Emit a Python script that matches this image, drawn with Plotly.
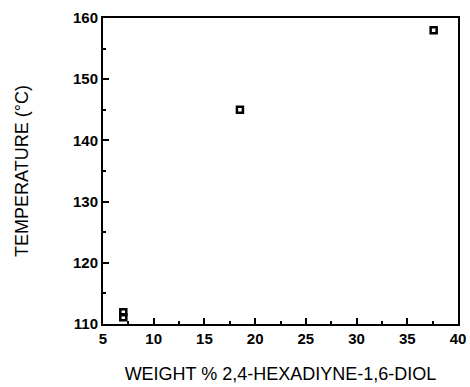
import plotly.graph_objects as go

weight_pct = [7.0, 7.0, 18.5, 37.6]
temperature = [111.1, 111.9, 145.0, 158.0]

x_ticks = [5, 10, 15, 20, 25, 30, 35, 40]
y_ticks = [110, 120, 130, 140, 150, 160]

fig = go.Figure()
fig.add_trace(go.Scatter(
    x=weight_pct, y=temperature, mode="markers",
    marker=dict(symbol="square-open", size=6, color="black", line=dict(width=2.5, color="black")),
    showlegend=False,
))

font = dict(family="Liberation Sans, Arial, sans-serif", color="black")
tick_font = dict(family="Liberation Sans, Arial, sans-serif", color="black", size=15, weight="bold")
fig.update_layout(
    width=470, height=387,
    margin=dict(l=103, r=12, t=18, b=63, autoexpand=False),
    paper_bgcolor="white", plot_bgcolor="white",
    font=dict(**font, size=15),
)
fig.update_xaxes(
    range=[5, 40], tickvals=x_ticks, ticktext=[str(v) for v in x_ticks],
    showgrid=False, zeroline=False, showline=True, linecolor="black", linewidth=2, mirror=True,
    ticks="inside", ticklen=6, tickwidth=1.5, tickcolor="black",
    minor=dict(dtick=2.5, ticks="inside", ticklen=3, tickcolor="black", tickwidth=1.5),
    tickfont=tick_font,
    title=dict(text="WEIGHT % 2,4-HEXADIYNE-1,6-DIOL", font=dict(**font, size=18), standoff=21),
)
fig.update_yaxes(
    range=[110, 160], tickvals=y_ticks, ticktext=[str(v) for v in y_ticks],
    showgrid=False, zeroline=False, showline=True, linecolor="black", linewidth=2, mirror=True,
    ticks="inside", ticklen=6, tickwidth=1.5, tickcolor="black",
    minor=dict(dtick=5, ticks="inside", ticklen=3, tickcolor="black", tickwidth=1.5),
    tickfont=tick_font,
    title=dict(text="TEMPERATURE (°C)", font=dict(**font, size=18), standoff=40),
)
fig.write_html("out.html")
